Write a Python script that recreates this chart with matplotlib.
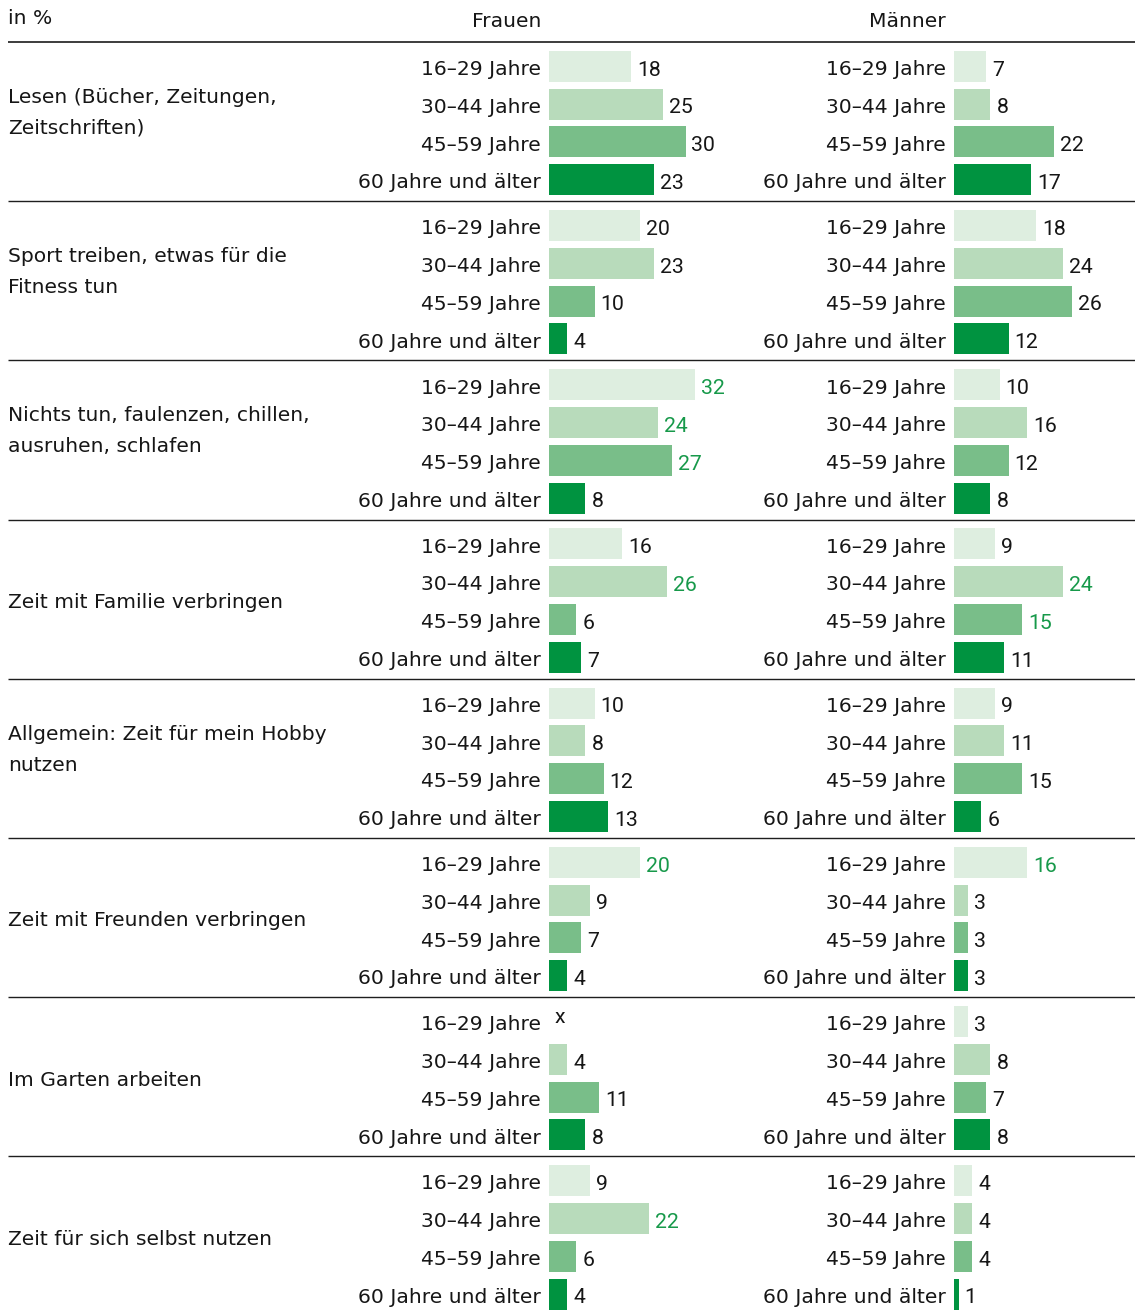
import matplotlib
matplotlib.use("Agg")
import matplotlib.pyplot as plt

# ---------------- data ----------------
categories = [
    "Lesen (Bücher, Zeitungen,\nZeitschriften)",
    "Sport treiben, etwas für die\nFitness tun",
    "Nichts tun, faulenzen, chillen,\nausruhen, schlafen",
    "Zeit mit Familie verbringen",
    "Allgemein: Zeit für mein Hobby\nnutzen",
    "Zeit mit Freunden verbringen",
    "Im Garten arbeiten",
    "Zeit für sich selbst nutzen",
]
age_groups = ["16–29 Jahre", "30–44 Jahre", "45–59 Jahre", "60 Jahre und älter"]

frauen = [
    [18, 25, 30, 23],
    [20, 23, 10, 4],
    [32, 24, 27, 8],
    [16, 26, 6, 7],
    [10, 8, 12, 13],
    [20, 9, 7, 4],
    [None, 4, 11, 8],
    [9, 22, 6, 4],
]
maenner = [
    [7, 8, 22, 17],
    [18, 24, 26, 12],
    [10, 16, 12, 8],
    [9, 24, 15, 11],
    [9, 11, 15, 6],
    [16, 3, 3, 3],
    [3, 8, 7, 8],
    [4, 4, 4, 1],
]
# (category index, age index) of values printed in green
frauen_highlight = [(2, 0), (2, 1), (2, 2), (3, 1), (5, 0), (7, 1)]
maenner_highlight = [(3, 1), (3, 2), (5, 0)]

header_unit = "in %"
header_f = "Frauen"
header_m = "Männer"
missing_mark = "x"

# ---------------- style / layout ----------------
W, H = 1135, 1311
bar_colors = ["#deeee0", "#b8dbbb", "#79be89", "#009340"]
txt_color = "#161616"
hl_color = "#17994a"
label_font = "DejaVu Sans"
num_font = "Roboto"
label_size = 14.6
num_size = 15.3

top_line_y = 42
first_row = 66.3
row_pitch = 37.8
group_pitch = 159.2
bar_h = 31
px_per_unit = 4.55
f_left, m_left = 549, 954
f_lab_right, m_lab_right = 541, 946
panel_w = 181
base_off = 8.8

fig = plt.figure(figsize=(W / 100, H / 100), dpi=100)
bg = fig.add_axes([0, 0, 1, 1])
bg.set_xlim(0, W)
bg.set_ylim(H, 0)
bg.axis("off")

axf = fig.add_axes([f_left / W, 0, panel_w / W, 1])
axm = fig.add_axes([m_left / W, 0, panel_w / W, 1])
for a in (axf, axm):
    a.set_xlim(0, panel_w / px_per_unit)
    a.set_ylim(H, 0)
    a.axis("off")
    a.patch.set_alpha(0)

# header
bg.text(8, 24, header_unit, ha="left", va="baseline", fontsize=label_size,
        family=label_font, color=txt_color)
bg.text(f_lab_right, 27, header_f, ha="right", va="baseline", fontsize=label_size,
        family=label_font, color=txt_color)
bg.text(m_lab_right, 27, header_m, ha="right", va="baseline", fontsize=label_size,
        family=label_font, color=txt_color)
bg.plot([8, W], [top_line_y, top_line_y], color="#3c3c3c", lw=1.4, solid_capstyle="butt")

off_pts = 6 * 72 / 100

for g, cat in enumerate(categories):
    gc = first_row + g * group_pitch + 1.5 * row_pitch
    lines = cat.split("\n")
    if len(lines) == 1:
        bg.text(8.5, gc + 7.5, lines[0], ha="left", va="baseline", fontsize=label_size,
                family=label_font, color=txt_color)
    else:
        for i, ln in enumerate(lines):
            bg.text(8.5, gc - 20 + 31 * i, ln, ha="left", va="baseline",
                    fontsize=label_size, family=label_font, color=txt_color)
    if g > 0:
        sy = top_line_y + g * group_pitch
        bg.plot([8, W], [sy, sy], color="#1e1e1e", lw=1.0, solid_capstyle="butt")

    for ax, data, hl, lab_right in ((axf, frauen, frauen_highlight, f_lab_right),
                                    (axm, maenner, maenner_highlight, m_lab_right)):
        ys = [first_row + g * group_pitch + r * row_pitch for r in range(4)]
        for r, (yc, age) in enumerate(zip(ys, age_groups)):
            bg.text(lab_right, yc + base_off, age, ha="right", va="baseline",
                    fontsize=label_size, family=label_font, color=txt_color)
            v = data[g][r]
            if v is None:
                ax.annotate(missing_mark, xy=(0, yc + 2), xytext=(off_pts, 0),
                            textcoords="offset points", ha="left", va="baseline",
                            fontsize=num_size, family=num_font, color=txt_color)
                continue
            ax.barh(yc, v, height=bar_h, left=0, color=bar_colors[r], linewidth=0)
            col = hl_color if (g, r) in hl else txt_color
            ax.annotate(str(v), xy=(v, yc + base_off + 0.5), xytext=(off_pts, 0),
                        textcoords="offset points", ha="left", va="baseline",
                        fontsize=num_size, family=num_font, color=col)

fig.savefig("out.png", dpi=100)
